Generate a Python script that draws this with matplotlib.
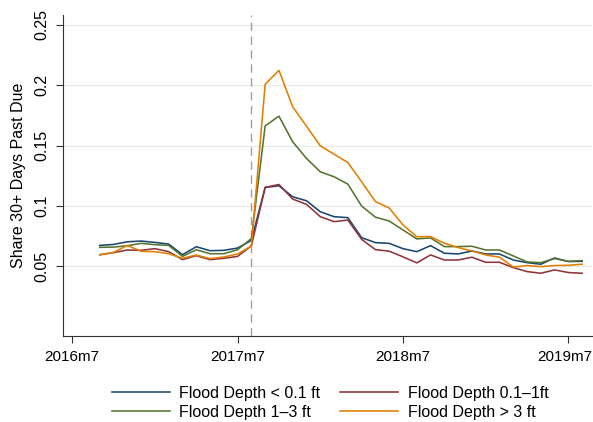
import numpy as np
import pandas as pd
import matplotlib
matplotlib.use("Agg")
import matplotlib.pyplot as plt
import matplotlib.transforms as mtransforms

plt.rcParams["font.family"] = ["Liberation Sans", "DejaVu Sans"]

# Monthly data, 2016m9 .. 2019m8
months = pd.period_range("2016-09", "2019-08", freq="M")

depth_lt01 = [0.0673, 0.0681, 0.0703, 0.0709, 0.0698, 0.0684, 0.0596, 0.0662, 0.0629,
              0.0632, 0.0651, 0.0715, 0.1154, 0.1167, 0.1076, 0.1043, 0.0952, 0.0911,
              0.0903, 0.0737, 0.0696, 0.0690, 0.0646, 0.0621, 0.0671, 0.0608, 0.0602,
              0.0627, 0.0602, 0.0602, 0.0552, 0.0530, 0.0517, 0.0569, 0.0539, 0.0541]
depth_01_1 = [0.0596, 0.0613, 0.0635, 0.0632, 0.0646, 0.0621, 0.0555, 0.0588, 0.0555,
              0.0566, 0.0582, 0.0670, 0.1154, 0.1178, 0.1057, 0.1013, 0.0911, 0.0870,
              0.0883, 0.0723, 0.0638, 0.0625, 0.0578, 0.0528, 0.0594, 0.0552, 0.0552,
              0.0575, 0.0533, 0.0533, 0.0489, 0.0456, 0.0442, 0.0470, 0.0448, 0.0442]
depth_1_3 = [0.0657, 0.0659, 0.0670, 0.0690, 0.0679, 0.0673, 0.0582, 0.0637, 0.0604,
             0.0604, 0.0637, 0.0730, 0.1664, 0.1744, 0.1531, 0.1394, 0.1283, 0.1242,
             0.1181, 0.0999, 0.0907, 0.0875, 0.0801, 0.0727, 0.0735, 0.0663, 0.0663,
             0.0666, 0.0635, 0.0635, 0.0586, 0.0536, 0.0530, 0.0564, 0.0541, 0.0547]
depth_gt3 = [0.0593, 0.0615, 0.0673, 0.0624, 0.0621, 0.0604, 0.0566, 0.0593, 0.0563,
             0.0577, 0.0602, 0.0668, 0.2009, 0.2124, 0.1821, 0.1661, 0.1498, 0.1429,
             0.1360, 0.1200, 0.1036, 0.0983, 0.0842, 0.0745, 0.0746, 0.0691, 0.0655,
             0.0627, 0.0594, 0.0575, 0.0494, 0.0506, 0.0497, 0.0506, 0.0508, 0.0517]

series = [
    ("Flood Depth < 0.1 ft", depth_lt01, "#1a476f"),
    ("Flood Depth 0.1\u20131ft", depth_01_1, "#90353b"),
    ("Flood Depth 1\u20133 ft", depth_1_3, "#55752f"),
    ("Flood Depth > 3 ft", depth_gt3, "#e37e00"),
]

tick_months = ["2016-07", "2017-07", "2018-07", "2019-07"]
tick_labels = ["2016m7", "2017m7", "2018m7", "2019m7"]
event_month = "2017-08"
yticks = [0.05, 0.1, 0.15, 0.2, 0.25]
ytick_labels = ["0.05", "0.1", "0.15", "0.2", "0.25"]


def mnum(p):
    # Stata-like monthly number
    p = pd.Period(p, freq="M")
    return (p.year - 1960) * 12 + p.month - 1


x = np.array([mnum(p) for p in months])
base = mnum("2016-07")

fig = plt.figure(figsize=(5.93, 4.22), dpi=100)
ax = fig.add_axes([0.1062, 0.2038, 0.8918, 0.7607])

for yv in yticks:
    ax.axhline(yv, color="#e8e8e8", lw=0.9, zorder=0)

ax.axvline(mnum(event_month), color="#a0a0a0", lw=1.0, ls=(0, (6, 4)), zorder=1)

handles = {}
for label, vals, col in series:
    h, = ax.plot(x, vals, color=col, lw=1.15, label=label, zorder=2)
    handles[label] = h

ax.set_xlim(base - 0.67, base + 37.7)
ax.set_ylim(-0.0078, 0.2583)

ax.set_xticks([mnum(m) for m in tick_months])
ax.set_xticklabels(tick_labels)
ax.set_yticks(yticks)
ax.set_yticklabels(ytick_labels, rotation=90, va="center")

ax.tick_params(axis="both", labelsize=11.5, color="#333333", length=5, width=0.8)
ax.tick_params(axis="x", pad=5, labelsize=11)
ax.tick_params(axis="y", pad=5)

# keep the last date label inside the figure edge
last = ax.get_xticklabels()[-1]
last.set_transform(last.get_transform() +
                   mtransforms.ScaledTranslation(-4 / 100, 0, fig.dpi_scale_trans))

for s in ["top", "right"]:
    ax.spines[s].set_visible(False)
for s in ["left", "bottom"]:
    ax.spines[s].set_color("#333333")
    ax.spines[s].set_linewidth(0.8)

ax.set_ylabel("Share 30+ Days Past Due", fontsize=11.5, labelpad=6)

order = [series[0][0], series[2][0], series[1][0], series[3][0]]
fig.legend([handles[k] for k in order], order, ncol=2, loc="center",
           bbox_to_anchor=(0.557, 0.046), frameon=False, fontsize=11.5,
           handlelength=3.6, handletextpad=0.6, columnspacing=1.25,
           labelspacing=0.25, borderpad=0)

fig.savefig("out.png", dpi=100)
